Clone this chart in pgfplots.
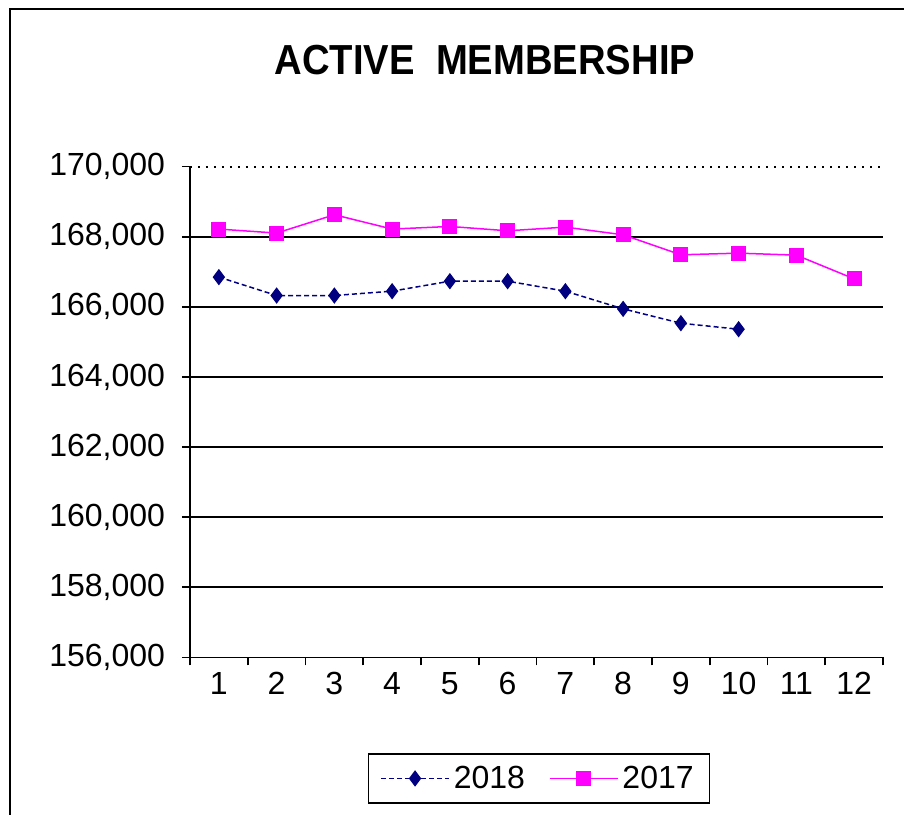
\documentclass[border=0pt]{standalone}
\usepackage{fontspec}
\setmainfont{Liberation Sans}
\newfontfamily\titlefont{Liberation Sans}[FakeStretch=0.91]
\usepackage{pgfplots}
\pgfplotsset{compat=1.18}
\definecolor{navy18}{RGB}{0,0,128}
\definecolor{mag17}{RGB}{255,0,255}
\begin{document}
\begin{tikzpicture}
\path[use as bounding box] (-95pt,-78.35pt) rectangle (357pt,328.65pt);
\draw[line width=1pt] (-90pt,-90pt) -- (-90pt,324.15pt) -- (370pt,324.15pt);
\begin{axis}[
  at={(0,0)}, anchor=south west,
  scale only axis, width=346.5pt, height=245.3pt,
  xmin=0.5, xmax=12.5, ymin=156000, ymax=170000,
  axis x line*=bottom, axis y line*=left,
  axis line style={black, line width=0.8pt},
  xtick={1,...,12},
  xticklabels={1,2,3,4,5,6,7,8,9,10,11,12},
  major x tick style={draw=none},
  minor xtick={0.5,1.5,...,12.5},
  minor x tick style={black, line width=0.8pt},
  minor tick length=4pt,
  major tick length=4pt,
  tick align=outside,
  ytick={156000,158000,...,168000},
  scaled y ticks=false,
  y tick style={black, line width=0.8pt},
  yticklabel style={xshift=-5pt},
  extra y ticks={170000},
  extra y tick style={grid=major, major grid style={black, line width=1pt, dash pattern=on 1pt off 3pt}},
  ymajorgrids=true,
  major grid style={black, line width=0.8pt},
  tick label style={font=\fontsize{16}{18}\selectfont},
  /pgf/number format/.cd, fixed, 1000 sep={,}, assume math mode=true,
  /pgfplots/.cd,
  legend columns=2,
  legend style={at={(0.5036,-0.247)}, anchor=center, draw=black, line width=0.8pt,
    inner xsep=6pt, inner ysep=4pt, font=\fontsize{16}{18}\selectfont,
    /tikz/every even column/.append style={column sep=10pt}},
  legend image code/.code={\draw[mark repeat=2, mark phase=2] plot coordinates {(0pt,0pt) (17pt,0pt) (34pt,0pt)};},
  clip=false,
]
\addplot[navy18, line width=0.75pt, dash pattern=on 2.5pt off 1.5pt, mark=diamond*, mark size=3.5pt, mark options={solid, fill=navy18}]
  coordinates {(1,166849) (2,166324) (3,166324) (4,166448) (5,166733) (6,166733) (7,166448) (8,165943) (9,165533) (10,165362)};
\addlegendentry{2018}
\addplot[mag17, line width=0.75pt, mark=square*, mark size=3.4pt, mark options={solid, fill=mag17}]
  coordinates {(1,168220) (2,168106) (3,168629) (4,168220) (5,168295) (6,168171) (7,168276) (8,168057) (9,167486) (10,167533) (11,167476) (12,166800)};
\addlegendentry{2017}
\end{axis}
\node[anchor=base, font=\titlefont\bfseries\fontsize{21}{24}\selectfont] at (147.5pt,291.15pt) {ACTIVE\ \ MEMBERSHIP};
\end{tikzpicture}
\end{document}
